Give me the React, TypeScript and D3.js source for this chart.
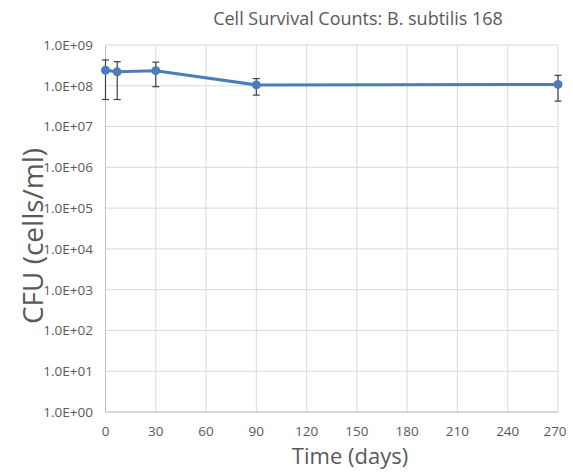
import React from 'react';
import * as d3 from 'd3';

const days = [0, 7, 30, 90, 270];
const cfu = [2.4e8, 2.2e8, 2.35e8, 1.05e8, 1.08e8];
const errHigh = [4.3e8, 3.9e8, 3.8e8, 1.5e8, 1.8e8];
const errLow = [4.6e7, 4.6e7, 9.5e7, 5.9e7, 4.2e7];
const xTicks = [0, 30, 60, 90, 120, 150, 180, 210, 240, 270];
const yTicks = [1e0, 1e1, 1e2, 1e3, 1e4, 1e5, 1e6, 1e7, 1e8, 1e9];

const W = 573;
const H = 472;
const margin = { top: 45, right: 15, bottom: 60, left: 105 };

const fmt = (v: number) => {
  const e = Math.round(Math.log10(v));
  return `1.0E+${e < 10 ? '0' + e : e}`;
};

export default function App() {
  const x = d3.scaleLinear().domain([0, 270]).range([margin.left + 0.5, W - margin.right]);
  const y = d3.scaleLog().domain([1, 1e9]).range([H - margin.bottom, margin.top]);
  const pts = days.map((d, i) => ({ d, v: cfu[i], hi: errHigh[i], lo: errLow[i] }));
  const line = d3.line<{ d: number; v: number }>().x(p => x(p.d)).y(p => y(p.v));
  const font = '"Open Sans", Lato, sans-serif';
  const grey = '#595959';

  return (
    <svg width={W} height={H} style={{ position: 'absolute', left: 0, top: 0, background: '#fff' }} fontFamily={font}>
      <rect width={W} height={H} fill="#fff" />
      {xTicks.map(t => (
        <line key={'gx' + t} x1={x(t)} x2={x(t)} y1={y(1e9)} y2={y(1)} stroke="#d9d9d9" strokeWidth={1} />
      ))}
      {yTicks.map(t => (
        <line key={'gy' + t} x1={x(0)} x2={x(270)} y1={y(t)} y2={y(t)} stroke="#d9d9d9" strokeWidth={1} />
      ))}
      <line x1={x(0)} x2={x(0)} y1={y(1e9)} y2={y(1)} stroke="#bfbfbf" />
      <line x1={x(0)} x2={x(270)} y1={y(1)} y2={y(1)} stroke="#bfbfbf" />
      {yTicks.map(t => (
        <text key={'ty' + t} x={93} y={y(t)} dy="0.36em" textAnchor="end" fontSize={13.5} fill={grey}>{fmt(t)}</text>
      ))}
      {xTicks.map(t => (
        <text key={'tx' + t} x={t === 270 ? x(t) - 3 : x(t)} y={y(1) + 24} textAnchor="middle" fontSize={13.5} fill={grey}>{t}</text>
      ))}
      {pts.map(p => (
        <g key={'e' + p.d} stroke="#404040" strokeWidth={1.2}>
          <line x1={x(p.d)} x2={x(p.d)} y1={y(p.hi)} y2={y(p.lo)} />
          <line x1={x(p.d) - 3.5} x2={x(p.d) + 3.5} y1={y(p.hi)} y2={y(p.hi)} />
          <line x1={x(p.d) - 3.5} x2={x(p.d) + 3.5} y1={y(p.lo)} y2={y(p.lo)} />
        </g>
      ))}
      <path d={line(pts) || ''} fill="none" stroke="#4a7ebb" strokeWidth={3} />
      {pts.map(p => (
        <circle key={'c' + p.d} cx={x(p.d)} cy={y(p.v)} r={4.5} fill="#4a7ebb" />
      ))}
      <text x={358} y={25} textAnchor="middle" fontSize={18} fill={grey}>Cell Survival Counts: B. subtilis 168</text>
      <text x={350} y={464} textAnchor="middle" fontSize={22} fill={grey}>Time (days)</text>
      <text transform={`translate(43,236) rotate(-90)`} textAnchor="middle" fontSize={28} fill={grey}>CFU (cells/ml)</text>
    </svg>
  );
}
